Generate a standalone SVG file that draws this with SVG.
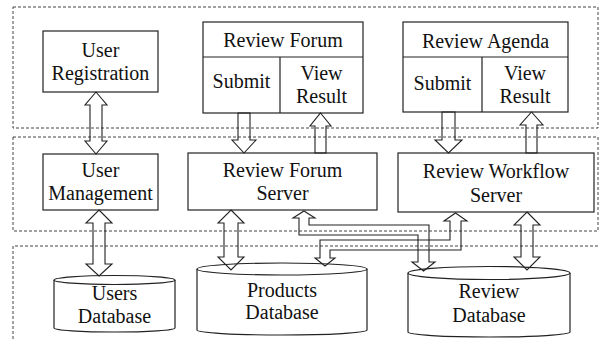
<svg xmlns="http://www.w3.org/2000/svg" width="599" height="339" viewBox="0 0 599 339" font-family="'Liberation Serif', 'DejaVu Serif', serif">
<style>
.region{fill:none;stroke:#444;stroke-width:1;stroke-dasharray:3 2}
.box{fill:#fff;stroke:#222;stroke-width:1.2}
.ln{fill:none;stroke:#222;stroke-width:1.2}
.arr{fill:none;stroke:#222;stroke-width:1.1;stroke-linejoin:miter}
text{font-family:'Liberation Serif','DejaVu Serif',serif;font-size:20px;fill:#111;text-anchor:middle}
</style>
<rect width="599" height="339" fill="#fff"/>
<g id="regions">
<rect class="region" x="13" y="7" width="585" height="121"/>
<rect class="region" x="13" y="137" width="585" height="94"/>
<path class="region" d="M598,246 H13 V339"/>
</g>
<g id="user-registration">
<rect class="box" x="43" y="31" width="115" height="61"/>
<text x="100.5" y="57">User</text>
<text x="100.5" y="80">Registration</text>
</g>
<g id="user-management">
<rect class="box" x="43" y="154" width="115" height="56"/>
<text x="100.5" y="177">User</text>
<text x="100.5" y="200">Management</text>
</g>
<g id="review-forum">
<rect class="box" x="203" y="22" width="160" height="91"/>
<path class="ln" d="M203,57 H363 M280,57 V113"/>
<text x="283" y="47">Review Forum</text>
<text x="241.5" y="88">Submit</text>
<text x="321.5" y="80">View</text>
<text x="321.5" y="103">Result</text>
</g>
<g id="review-agenda">
<rect class="box" x="403" y="22" width="165" height="90"/>
<path class="ln" d="M403,57 H568 M482,57 V112"/>
<text x="485.5" y="48">Review Agenda</text>
<text x="442.5" y="90">Submit</text>
<text x="525" y="80">View</text>
<text x="525" y="103">Result</text>
</g>
<g id="review-forum-server">
<rect class="box" x="188" y="153" width="189" height="57"/>
<text x="282.5" y="177">Review Forum</text>
<text x="282.5" y="200">Server</text>
</g>
<g id="review-workflow-server">
<rect class="box" x="398" y="153" width="196" height="59"/>
<text x="496" y="178">Review Workflow</text>
<text x="496" y="202">Server</text>
</g>
<g id="users-database">
<path class="box" d="M54,280 A60.5,4.5 0 0 1 175,280 V328 A60.5,4 0 0 1 54,328 Z"/>
<path class="ln" d="M54,280 A60.5,4.5 0 0 0 175,280"/>
<text x="114.5" y="300">Users</text>
<text x="114.5" y="323">Database</text>
</g>
<g id="products-database">
<path class="box" d="M197,269 A85,6 0 0 1 367,269 V330 A85,5 0 0 1 197,330 Z"/>
<path class="ln" d="M197,269 A85,6 0 0 0 367,269"/>
<text x="282" y="297">Products</text>
<text x="282" y="319">Database</text>
</g>
<g id="review-database">
<path class="box" d="M408,273 A81,6.5 0 0 1 570,273 V332 A81,5 0 0 1 408,332 Z"/>
<path class="ln" d="M408,273 A81,6.5 0 0 0 570,273"/>
<text x="489" y="298">Review</text>
<text x="489" y="322">Database</text>
</g>
<g id="connectors">
<polygon class="arr" points="96,92 107,105 102,105 102,141 107,141 96,154 85,141 90,141 90,105 85,105"/>
<polygon class="arr" points="99,210 112,223 105,223 105,264 112,264 99,276 86,264 93,264 93,223 86,223"/>
<polygon class="arr" points="238,113 250,113 250,140 256,140 244,153 232,140 238,140"/>
<polygon class="arr" points="320.5,113 331,126 326,126 326,153 315,153 315,126 310,126"/>
<polygon class="arr" points="442,112 455,112 455,140 462,140 448.5,153 435,140 442,140"/>
<polygon class="arr" points="531.5,112 543,125 537,125 537,153 526,153 526,125 520,125"/>
<polygon class="arr" points="231,210 244,223 238,223 238,257 244,257 231,270 218,257 224,257 224,223 218,223"/>
<polygon class="arr" points="527,212 540,225 533,225 533,257 540,257 527,270 514,257 521,257 521,225 514,225"/>
<polygon class="arr" points="304,211 315,218 309,218 309,225 429,225 429,262 435,262 423.5,271 412,262 418,262 418,235 299,235 299,218 293,218"/>
<polygon class="arr" points="455.5,213 467,221 461,221 461,250 330,250 330,258 335,258 325,266 315,258 320,258 320,240 450,240 450,221 444,221"/>
</g>
</svg>
